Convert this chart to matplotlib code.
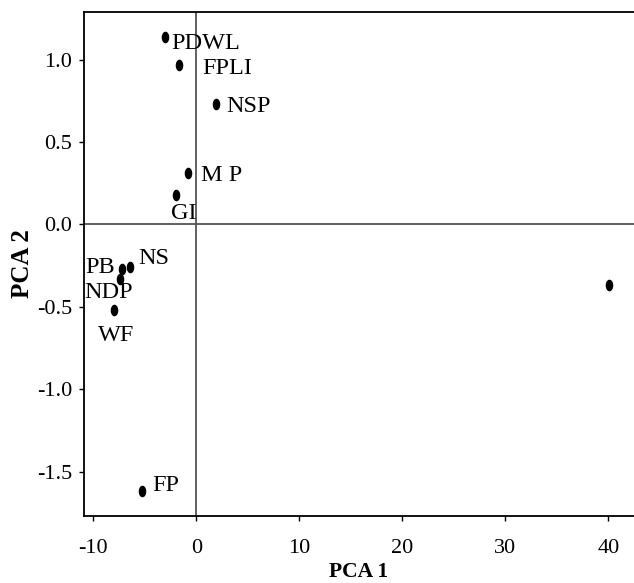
import matplotlib
matplotlib.use("Agg")
import matplotlib.pyplot as plt
import numpy as np
from matplotlib.path import Path

plt.rcParams['font.family'] = ['Liberation Serif', 'DejaVu Serif']

labels = ["PDWL", "FPLI", "NSP", "M P", "GI", "NS", "PB", "NDP", "WF", "FP", ""]
pca1 = [-3.0, -1.7, 1.9, -0.8, -2.0, -6.4, -7.2, -7.4, -8.0, -5.3, 40.1]
pca2 = [1.14, 0.97, 0.73, 0.31, 0.18, -0.26, -0.27, -0.33, -0.52, -1.62, -0.37]

# label placement: (dx px, dy px of cap-centre relative to point, y down, ha)
place = {
    "PDWL": (6, 4, 'left'),
    "FPLI": (24, 1.5, 'left'),
    "NSP": (10, 0, 'left'),
    "M P": (13, 0, 'left'),
    "GI": (8, 16.5, 'center'),
    "NS": (8, -11, 'left'),
    "PB": (-7, -3.5, 'right'),
    "NDP": (-11.5, 11.5, 'center'),
    "WF": (2, 23, 'center'),
    "FP": (11, -8, 'left'),
}

xticks = [-10, 0, 10, 20, 30, 40]
yticks = [-1.5, -1.0, -0.5, 0.0, 0.5, 1.0]

LABEL_FS = 17.5
cap = 0.662 * LABEL_FS

t = np.linspace(0, 2*np.pi, 40)
ell = Path(np.column_stack([0.65*np.cos(t), np.sin(t)]), closed=True)

fig = plt.figure(figsize=(6.34, 5.83), dpi=100)
ax = fig.add_axes([84/634, 1-516/583, 1-84/634, (516-12)/583])
ax.axvline(0, color='#555555', lw=1.3, zorder=1)
ax.axhline(0, color='#555555', lw=1.3, zorder=1)
ax.scatter(pca1, pca2, marker=ell, s=70, color='black', linewidths=0, zorder=3)
for lab, x, y in zip(labels, pca1, pca2):
    if not lab:
        continue
    dxp, dyp, ha = place[lab]
    dx = dxp * 0.72
    dy = -dyp * 0.72 - cap / 2
    ax.annotate(lab, (x, y), xytext=(dx, dy), textcoords='offset points',
                ha=ha, va='baseline', fontsize=LABEL_FS)

ax.set_xlim(-10.9, 42.5)
ax.set_ylim(-1.77, 1.29)
ax.set_xticks(xticks)
ax.set_xticklabels([str(v) for v in xticks])
ax.set_yticks(yticks)
ax.set_yticklabels([f"{v:.1f}" for v in yticks])
ax.tick_params(labelsize=16, direction='out', length=3.6, width=1)
ax.tick_params(axis='x', pad=13)
ax.tick_params(axis='y', pad=5)
ax.spines['right'].set_visible(False)
for s in ['left', 'top', 'bottom']:
    ax.spines[s].set_linewidth(1.3)
ax.set_xlabel("PCA 1", fontsize=15.5, fontweight='bold', labelpad=3)
ax.set_ylabel("PCA 2", fontsize=18, fontweight='bold', labelpad=2)

fig.savefig("out.png", dpi=100)
